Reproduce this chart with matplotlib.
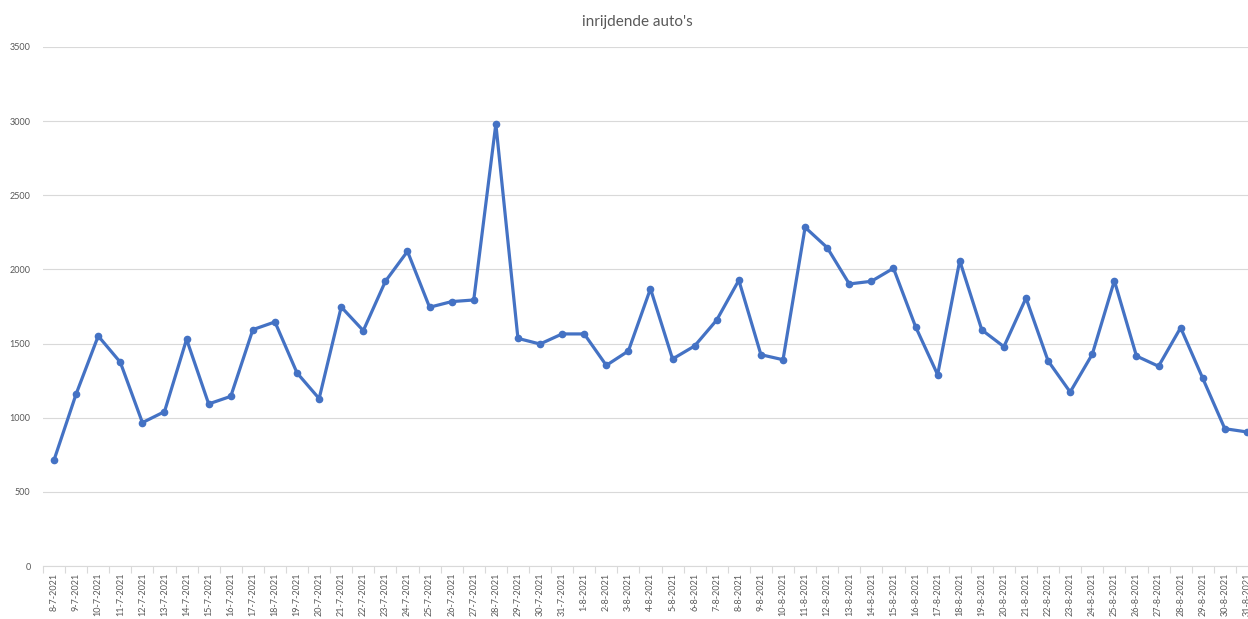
import numpy as np
import matplotlib
matplotlib.use("Agg")
import matplotlib.pyplot as plt

# dagen 8-7-2021 t/m 31-8-2021
dates = [f"{d}-7-2021" for d in range(8, 32)] + [f"{d}-8-2021" for d in range(1, 32)]
cars = [715, 1160, 1551, 1374, 967, 1041, 1529, 1093, 1144, 1594,
        1646, 1302, 1129, 1747, 1587, 1920, 2122, 1745, 1783, 1794,
        2981, 1535, 1497, 1565, 1565, 1353, 1450, 1870, 1396, 1484,
        1659, 1927, 1425, 1391, 2284, 2147, 1902, 1920, 2008, 1614,
        1290, 2059, 1592, 1479, 1807, 1383, 1173, 1428, 1924, 1416,
        1347, 1607, 1266, 926, 904]
yticks = [0, 500, 1000, 1500, 2000, 2500, 3000, 3500]
title = "inrijdende auto's"

plt.rcParams['font.family'] = ['Lato', 'DejaVu Sans']
grey = '#595959'

fig = plt.figure(figsize=(12.48, 6.19), dpi=100)
ax = fig.add_axes([43/1248, 1-566/619, 55*22.09/1248, 519/619])

x = np.arange(len(dates))
ax.plot(x, cars, color='#4472C4', lw=2.3, marker='o', ms=4.5, zorder=3,
        solid_joinstyle='round')

ax.set_xlim(-0.5, len(dates)-0.5)
ax.set_ylim(0, 3500)
ax.set_yticks(yticks)
ax.set_yticklabels([str(v) for v in yticks], fontsize=6.5, color=grey)
ax.tick_params(axis='y', length=0, pad=9)
ax.yaxis.grid(True, color='#D9D9D9', lw=0.8)
ax.set_axisbelow(True)

# tick marks between categories, labels at centers
ax.set_xticks(np.arange(len(dates)+1)-0.5)
ax.set_xticklabels([])
ax.tick_params(axis='x', which='major', length=5, color='#D9D9D9', width=0.8)
ax.set_xticks(x, minor=True)
ax.set_xticklabels(dates, minor=True, rotation=90, fontsize=6.5, color=grey)
ax.tick_params(axis='x', which='minor', length=0, pad=5)

for s in ['top', 'right', 'left']:
    ax.spines[s].set_visible(False)
ax.spines['bottom'].set_color('#D9D9D9')
ax.spines['bottom'].set_linewidth(0.8)

fig.text(637/1248, 1-22/619, title, ha='center', va='center',
         fontsize=11, color=grey)

fig.savefig('out.png', dpi=100)
